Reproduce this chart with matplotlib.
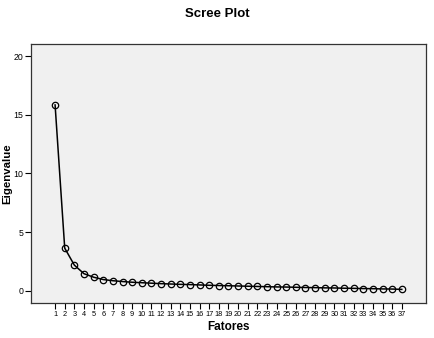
import numpy as np
import matplotlib.pyplot as plt

plt.rcParams['font.family'] = ['Liberation Sans', 'DejaVu Sans']

fatores = np.arange(1, 38)
eigenvalues = [15.85, 3.63, 2.18, 1.45, 1.15, 0.95, 0.85, 0.78, 0.72, 0.68,
               0.64, 0.60, 0.57, 0.54, 0.52, 0.49, 0.46, 0.44, 0.42, 0.40,
               0.38, 0.36, 0.34, 0.32, 0.31, 0.29, 0.27, 0.26, 0.24, 0.23,
               0.21, 0.20, 0.18, 0.17, 0.15, 0.14, 0.11]

fig = plt.figure(figsize=(4.35, 3.38), dpi=100)
ax = fig.add_axes([0.0713, 0.1036, 0.9077, 0.7662])
ax.set_facecolor('#f0f0f0')

ax.plot(fatores, eigenvalues, color='black', linewidth=1.1,
        marker='o', markersize=4.6, markerfacecolor='none',
        markeredgecolor='black', markeredgewidth=0.9)

ax.set_xlim(-1.5, 39.5)
ax.set_ylim(-1.05, 21.05)
ax.set_xticks(fatores)
ax.set_xticklabels([str(f) for f in fatores], fontsize=5.3)
ax.set_yticks([0, 5, 10, 15, 20])
ax.tick_params(axis='y', labelsize=6.3, length=4, width=0.8, pad=1.5)
ax.tick_params(axis='x', length=4, width=0.8, pad=2)

for s in ax.spines.values():
    s.set_linewidth(0.9)
    s.set_color('#333333')

ax.set_xlabel('Fatores', fontsize=8.5, fontweight='bold', labelpad=2)
ax.set_ylabel('Eigenvalue', fontsize=8.2, fontweight='bold')
ax.yaxis.set_label_coords(-0.047, 0.5)
fig.suptitle('Scree Plot', fontsize=9.5, fontweight='bold', y=0.975)

fig.savefig('out.png', dpi=100)
